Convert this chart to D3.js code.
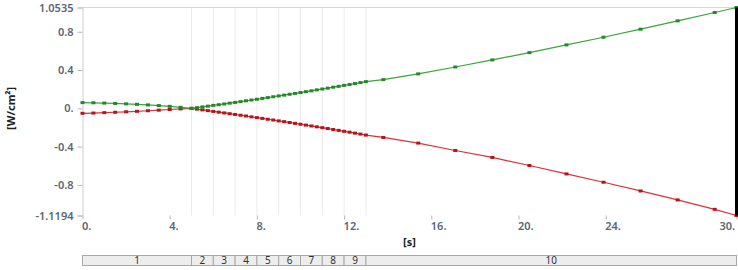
<!DOCTYPE html>
<html>
<head>
<meta charset="utf-8">
<script src="https://cdn.jsdelivr.net/npm/d3@7"></script>
<style>
  body { margin: 0; background: #fff; }
  text { font-family: "Noto Sans", "Open Sans", sans-serif; }
</style>
</head>
<body>
<div id="chart"></div>
<script>
// chart values
var timeStart = [0, 0.5, 1, 1.5, 2, 2.5, 3, 3.5, 4, 4.5, 5];
var greenStart = [0.060, 0.058, 0.055, 0.051, 0.047, 0.042, 0.036, 0.029, 0.021, 0.011, 0];
var redStart = [-0.052, -0.049, -0.045, -0.041, -0.036, -0.031, -0.025, -0.019, -0.012, -0.006, 0];

var timeMid = [5.25, 5.5, 5.75, 6, 6.25, 6.5, 6.75, 7, 7.25, 7.5, 7.75, 8, 8.25, 8.5, 8.75, 9,
  9.25, 9.5, 9.75, 10, 10.25, 10.5, 10.75, 11, 11.25, 11.5, 11.75, 12, 12.25, 12.5, 12.75, 13];
var greenMid = [0.0075, 0.015, 0.023, 0.031, 0.038, 0.046, 0.054, 0.062, 0.070, 0.079, 0.087, 0.095,
  0.104, 0.112, 0.121, 0.130, 0.138, 0.147, 0.156, 0.165, 0.174, 0.183, 0.193, 0.202,
  0.211, 0.221, 0.230, 0.240, 0.249, 0.259, 0.269, 0.279];
var redMid = [-0.008, -0.016, -0.024, -0.032, -0.040, -0.048, -0.056, -0.064, -0.072, -0.080, -0.089, -0.097,
  -0.105, -0.114, -0.122, -0.131, -0.139, -0.148, -0.157, -0.166, -0.175, -0.184, -0.193, -0.202,
  -0.211, -0.221, -0.230, -0.240, -0.249, -0.259, -0.269, -0.279];

var timeEnd = [13.8, 15.4, 17.1, 18.8, 20.5, 22.2, 23.9, 25.6, 27.3, 29.0, 30];
var greenEnd = [0.300, 0.360, 0.432, 0.506, 0.582, 0.663, 0.743, 0.827, 0.914, 1.001, 1.0535];
var redEnd = [-0.304, -0.363, -0.440, -0.513, -0.597, -0.685, -0.772, -0.863, -0.957, -1.055, -1.1194];

var yTicks = [1.0535, 0.8, 0.4, 0, -0.4, -0.8, -1.1194];
var yTickLabels = ["1.0535", "0.8", "0.4", "0.", "-0.4", "-0.8", "-1.1194"];
var xTicks = [0, 4, 8, 12, 16, 20, 24, 30];
var xTickLabels = ["0.", "4.", "8.", "12.", "16.", "20.", "24.", "30."];

var stepBounds = [0, 5, 6, 7, 8, 9, 10, 11, 12, 13, 30];
var stepNames = ["1", "2", "3", "4", "5", "6", "7", "8", "9", "10"];

var svgWidth = 738;
var svgHeight = 270;

var svg = d3.select("#chart")
  .append("svg")
  .attr("width", svgWidth)
  .attr("height", svgHeight);

var x = d3.scaleLinear().domain([0, 30]).range([82.5, 736.5]);
var y = d3.scaleLinear().domain([-1.1194, 1.0535]).range([215.5, 7.5]);

// join the three pieces of each series
var times = timeStart.concat(timeMid, timeEnd);
var greenVals = greenStart.concat(greenMid, greenEnd);
var redVals = redStart.concat(redMid, redEnd);
var green = times.map((t, i) => ({ t: t, v: greenVals[i] }));
var red = times.map((t, i) => ({ t: t, v: redVals[i] }));

// vertical lines at step boundaries
svg.append("g")
  .selectAll("line")
  .data(stepBounds.slice(1, -1))
  .enter()
  .append("line")
  .attr("x1", d => x(d)).attr("x2", d => x(d))
  .attr("y1", y(1.0535)).attr("y2", y(-1.1194))
  .attr("stroke", "#ebebeb")
  .attr("stroke-width", 1);

// top border
svg.append("line")
  .attr("x1", x(0)).attr("x2", x(30))
  .attr("y1", y(1.0535)).attr("y2", y(1.0535))
  .attr("stroke", "#d8d8d8");

// left axis
var leftAxis = d3.axisLeft(y)
  .tickValues(yTicks)
  .tickFormat((d, i) => yTickLabels[i])
  .tickSizeOuter(0)
  .tickSize(5)
  .tickPadding(4);

var gy = svg.append("g")
  .attr("transform", `translate(${x(0)},0)`)
  .call(leftAxis);
gy.select(".domain").attr("stroke", "#cfcfcf");
gy.selectAll(".tick line").attr("stroke", "#b8b8b8");
gy.selectAll(".tick text")
  .attr("fill", "#5b6573")
  .style("font-size", "11px")
  .style("font-weight", "600");

// bottom axis (ticks only)
var bottomAxis = d3.axisBottom(x)
  .tickValues(xTicks)
  .tickFormat((d, i) => xTickLabels[i])
  .tickSizeOuter(0)
  .tickSize(4)
  .tickPadding(3);

var gx = svg.append("g")
  .attr("transform", `translate(0,${y(-1.1194)})`)
  .call(bottomAxis);
gx.select(".domain").remove();
gx.selectAll(".tick line").attr("stroke", "#b8b8b8");
gx.selectAll(".tick text")
  .attr("fill", "#5b6573")
  .attr("text-anchor", (d, i) => i === xTicks.length - 1 ? "end" : "start")
  .attr("dx", (d, i) => i === xTicks.length - 1 ? "-2" : "-1")
  .style("font-size", "11px")
  .style("font-weight", "600");

// series lines and markers
var line = d3.line()
  .x(d => x(d.t))
  .y(d => y(d.v));

function drawSeries(data, lineColor, markColor) {
  svg.append("path")
    .datum(data)
    .attr("d", line)
    .attr("fill", "none")
    .attr("stroke", lineColor)
    .attr("stroke-width", 1.2);

  svg.append("g")
    .selectAll("rect")
    .data(data)
    .enter()
    .append("rect")
    .attr("x", d => x(d.t) - 2)
    .attr("y", d => y(d.v) - 1.5)
    .attr("width", 4)
    .attr("height", 3)
    .attr("fill", markColor);
}

drawSeries(red, "#d4343a", "#b5141c");
drawSeries(green, "#3aa53a", "#22882a");

// thick black marker at end of time range
svg.append("line")
  .attr("x1", x(30)).attr("x2", x(30))
  .attr("y1", y(1.0535)).attr("y2", y(-1.1194))
  .attr("stroke", "#000")
  .attr("stroke-width", 3);

// axis titles
svg.append("text")
  .attr("transform", `translate(15,${y(0)}) rotate(-90)`)
  .attr("text-anchor", "middle")
  .attr("fill", "#222")
  .style("font-size", "11px")
  .style("font-weight", "700")
  .text("[W/cm²]");

svg.append("text")
  .attr("x", (x(0) + x(30)) / 2)
  .attr("y", 246)
  .attr("text-anchor", "middle")
  .attr("fill", "#222")
  .style("font-size", "11px")
  .style("font-weight", "700")
  .text("[s]");

// step bar
var steps = stepNames.map((n, i) => ({ name: n, a: stepBounds[i], b: stepBounds[i + 1] }));

var stepGroup = svg.append("g");
stepGroup.selectAll("rect")
  .data(steps)
  .enter()
  .append("rect")
  .attr("x", d => x(d.a))
  .attr("y", 255.5)
  .attr("width", d => x(d.b) - x(d.a))
  .attr("height", 10)
  .attr("fill", "#ededed")
  .attr("stroke", "#a8a8a8")
  .attr("stroke-width", 1);

stepGroup.selectAll("text")
  .data(steps)
  .enter()
  .append("text")
  .attr("x", d => (x(d.a) + x(d.b)) / 2)
  .attr("y", 264)
  .attr("text-anchor", "middle")
  .attr("fill", "#333")
  .style("font-size", "10px")
  .text(d => d.name);
</script>
</body>
</html>
